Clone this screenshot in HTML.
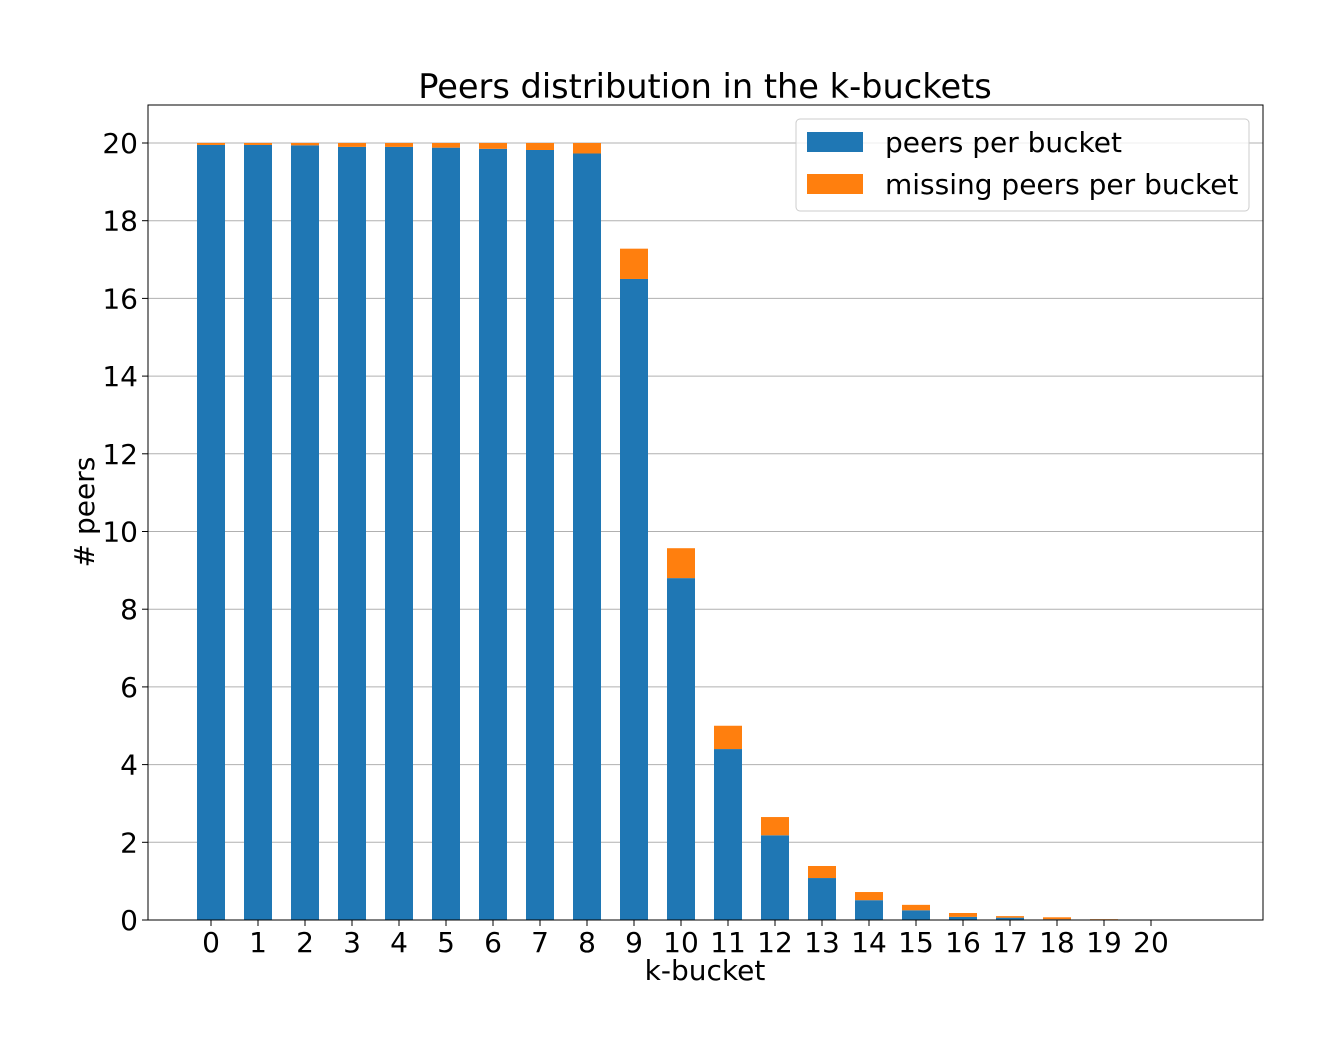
<!DOCTYPE html>
<html><head><meta charset="utf-8"><style>body{margin:0;background:#fff}svg{font-family:"DejaVu Sans",sans-serif}</style></head>
<body>
<svg id="chart" width="1334" height="1059" xmlns="http://www.w3.org/2000/svg">
<rect width="1334" height="1059" fill="#fff"/>
<g id="grid"></g><g id="bars"></g><g id="axes"></g>
</svg>
<script>
const categories=[0,1,2,3,4,5,6,7,8,9,10,11,12,13,14,15,16,17,18,19,20];
const peers=[19.95,19.95,19.94,19.9,19.9,19.88,19.85,19.82,19.73,16.5,8.8,4.4,2.18,1.08,0.51,0.25,0.08,0.06,0.02,0.01,0.005];
const missing=[0.05,0.05,0.06,0.1,0.1,0.12,0.15,0.18,0.27,0.78,0.77,0.6,0.47,0.31,0.21,0.14,0.1,0.04,0.05,0.01,0.005];
const yTicks=[0,2,4,6,8,10,12,14,16,18,20];
const NS="http://www.w3.org/2000/svg";
const L=148,R=1263,T=105,B=920;
const xs=v=>211+v*47, ys=v=>920-v*38.85;
function mk(t,a,p){const e=document.createElementNS(NS,t);for(const k in a)e.setAttribute(k,a[k]);p.appendChild(e);return e;}
const g=document.getElementById('grid'),b=document.getElementById('bars'),ax=document.getElementById('axes');
yTicks.forEach(v=>{
 const l=mk('line',{x1:L,x2:R,y1:ys(v),y2:ys(v),stroke:'#b0b0b0','stroke-width':1},g);
 
 
 mk('line',{x1:L-6,x2:L,y1:ys(v),y2:ys(v),stroke:'#000'},ax);
 const t=mk('text',{x:L-10,y:ys(v)+10,'text-anchor':'end','font-size':28},ax);t.textContent=v;
 
 
});
categories.forEach((c,i)=>{
 const w=28,x=xs(c)-w/2;
 const r1=mk('rect',{x:x,y:ys(peers[i]),width:w,height:ys(0)-ys(peers[i]),fill:'#1f77b4'},b);
 
 
 const r2=mk('rect',{x:x,y:ys(peers[i]+missing[i]),width:w,height:ys(peers[i])-ys(peers[i]+missing[i]),fill:'#ff7f0e'},b);
 
 
 mk('line',{x1:xs(c),x2:xs(c),y1:B,y2:B+6,stroke:'#000'},ax);
 const t=mk('text',{x:xs(c),y:B+32,'text-anchor':'middle','font-size':28},ax);t.textContent=c;
 
 
});
const fr=mk('rect',{x:L,y:T,width:R-L,height:B-T,fill:'none',stroke:'#000','stroke-width':1},ax);


const ti=mk('text',{x:705,y:98,'text-anchor':'middle','font-size':33.6},ax);ti.textContent='Peers distribution in the k-buckets';


const xt=mk('text',{x:705,y:980,'text-anchor':'middle','font-size':28},ax);xt.textContent='k-bucket';


const yt=mk('text',{x:94,y:512,'text-anchor':'middle','font-size':28,transform:'rotate(-90 94 512)'},ax);yt.textContent='# peers';


const lg=mk('g',{},ax);


mk('rect',{x:796,y:119,width:453,height:92,rx:4,fill:'#fff','fill-opacity':0.8,stroke:'#ccc'},lg);
mk('rect',{x:807,y:132,width:56,height:20,fill:'#1f77b4'},lg);
mk('rect',{x:807,y:174,width:56,height:20,fill:'#ff7f0e'},lg);
const l1=mk('text',{x:885,y:152,'font-size':28},lg);l1.textContent='peers per bucket';


const l2=mk('text',{x:885,y:194,'font-size':28},lg);l2.textContent='missing peers per bucket';


</script>
</body></html>
